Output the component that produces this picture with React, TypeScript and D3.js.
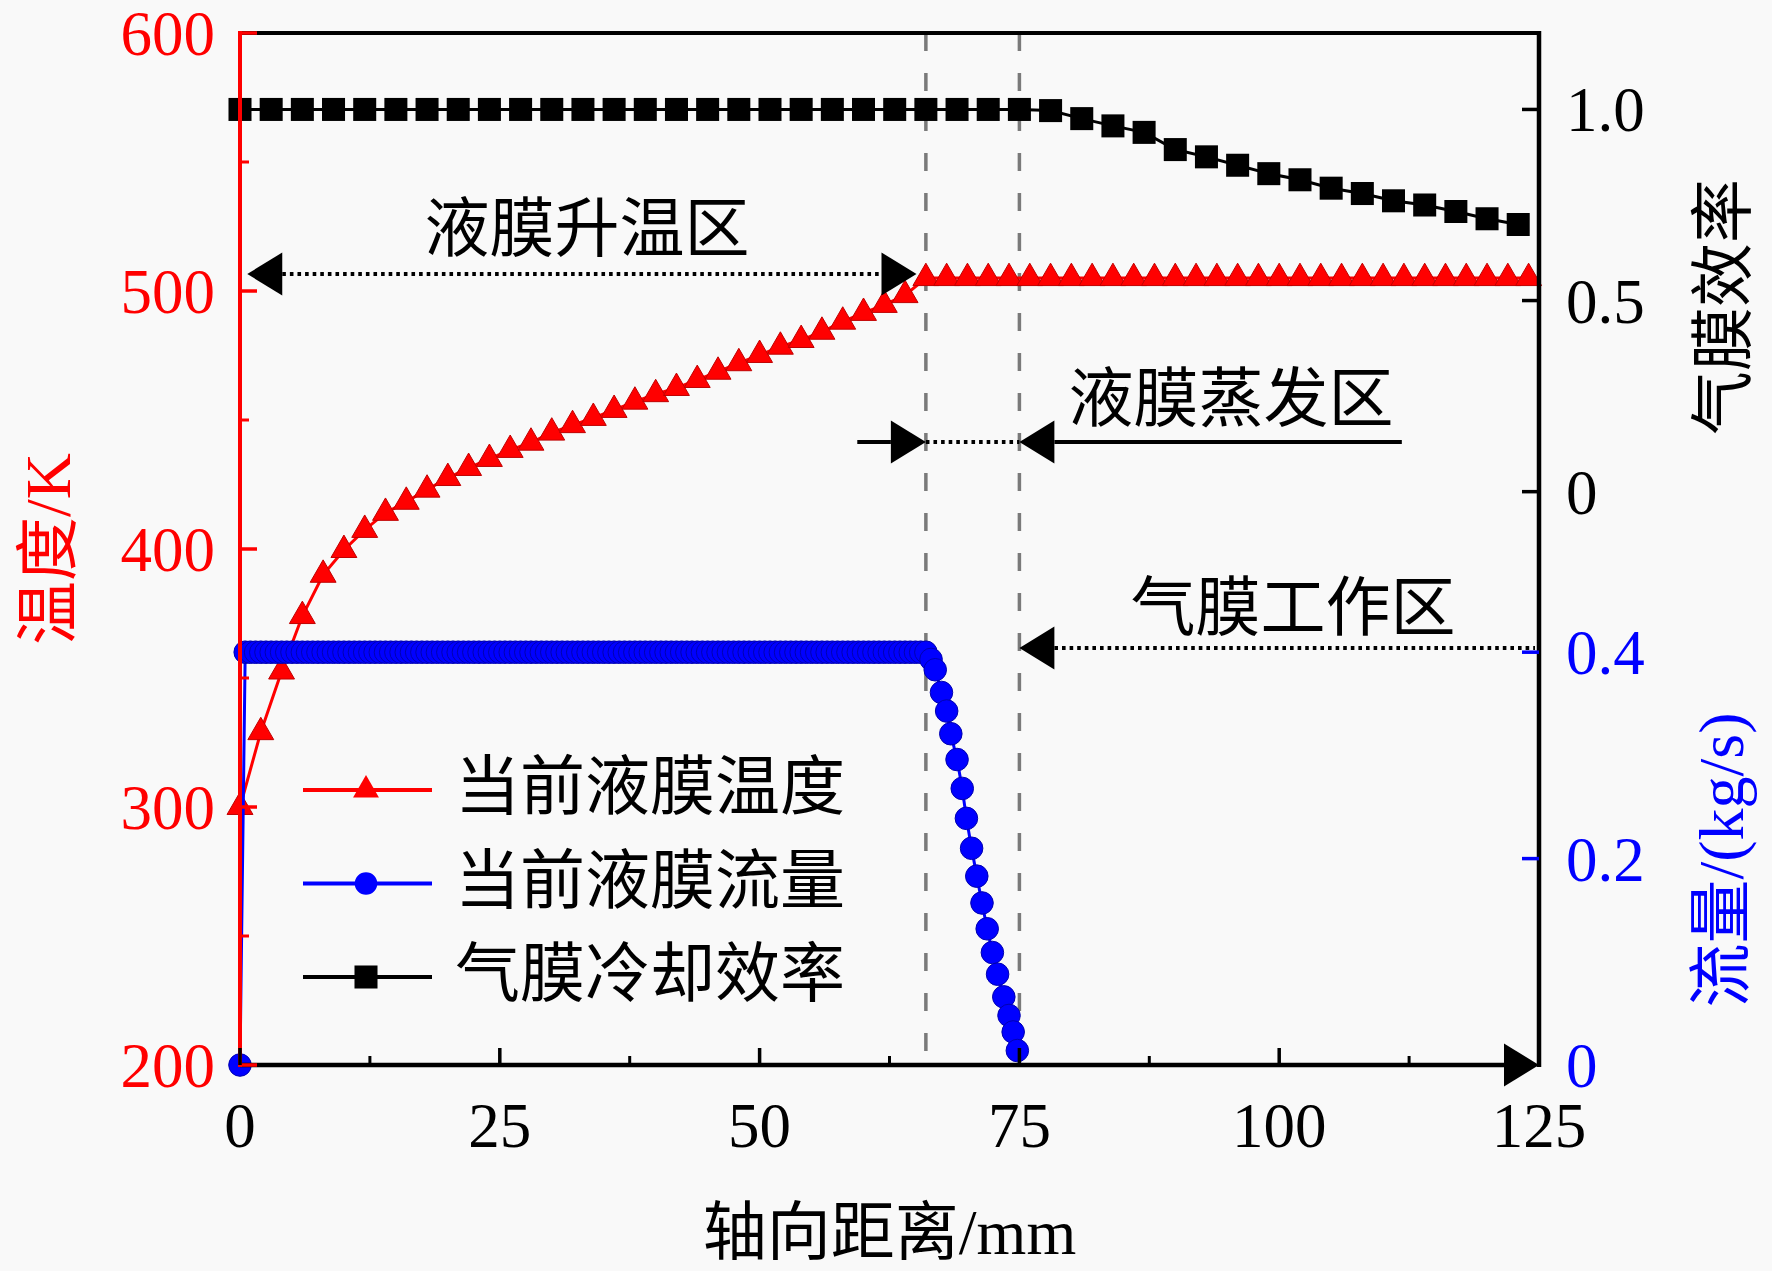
import React, { useEffect } from 'react'
import * as d3 from 'd3'

// 当前液膜温度 (K), sampled every 2 mm
const tempDist = [
  0, 2, 4, 6, 8, 10, 12, 14, 16, 18, 20, 22, 24, 26, 28, 30, 32, 34, 36, 38, 40,
  42, 44, 46, 48, 50, 52, 54, 56, 58, 60, 62, 64, 66, 68, 70, 72, 74, 76, 78, 80,
  82, 84, 86, 88, 90, 92, 94, 96, 98, 100, 102, 104, 106, 108, 110, 112, 114, 116,
  118, 120, 122, 124,
]
const tempK = [
  300, 329, 352.5, 374, 390, 399.6, 407.4, 414, 418.3, 423, 427.5, 431.4, 434.9,
  438.4, 441.2, 445.1, 448, 450.8, 453.9, 457.1, 460, 462.4, 465.5, 468.7, 472,
  475.2, 478.4, 481, 484.2, 488.1, 491.5, 494.6, 498.4, 505, 505, 505, 505, 505,
  505, 505, 505, 505, 505, 505, 505, 505, 505, 505, 505, 505, 505, 505, 505, 505,
  505, 505, 505, 505, 505, 505, 505, 505, 505,
]

// 气膜冷却效率, sampled every 3 mm
const effDist = [
  0, 3, 6, 9, 12, 15, 18, 21, 24, 27, 30, 33, 36, 39, 42, 45, 48, 51, 54, 57, 60,
  63, 66, 69, 72, 75, 78, 81, 84, 87, 90, 93, 96, 99, 102, 105, 108, 111, 114,
  117, 120, 123,
]
const effVal = [
  1, 1, 1, 1, 1, 1, 1, 1, 1, 1, 1, 1, 1, 1, 1, 1, 1, 1, 1, 1, 1, 1, 1, 1, 1, 1,
  0.997, 0.976, 0.957, 0.94, 0.895, 0.876, 0.854, 0.832, 0.816, 0.794, 0.78,
  0.761, 0.75, 0.733, 0.714, 0.699,
]

// 当前液膜流量 (kg/s): start, plateau samples every 0.5 mm, then the decline
const flowStart: [number, number] = [0, 0]
const flowPlateauDist = [
  0.5, 1, 1.5, 2, 2.5, 3, 3.5, 4, 4.5, 5, 5.5, 6, 6.5, 7, 7.5, 8, 8.5, 9, 9.5, 10,
  10.5, 11, 11.5, 12, 12.5, 13, 13.5, 14, 14.5, 15, 15.5, 16, 16.5, 17, 17.5, 18,
  18.5, 19, 19.5, 20, 20.5, 21, 21.5, 22, 22.5, 23, 23.5, 24, 24.5, 25, 25.5, 26,
  26.5, 27, 27.5, 28, 28.5, 29, 29.5, 30, 30.5, 31, 31.5, 32, 32.5, 33, 33.5, 34,
  34.5, 35, 35.5, 36, 36.5, 37, 37.5, 38, 38.5, 39, 39.5, 40, 40.5, 41, 41.5, 42,
  42.5, 43, 43.5, 44, 44.5, 45, 45.5, 46, 46.5, 47, 47.5, 48, 48.5, 49, 49.5, 50,
  50.5, 51, 51.5, 52, 52.5, 53, 53.5, 54, 54.5, 55, 55.5, 56, 56.5, 57, 57.5, 58,
  58.5, 59, 59.5, 60, 60.5, 61, 61.5, 62, 62.5, 63, 63.5, 64, 64.5, 65, 65.5, 66,
]
const flowPlateau = 0.4
const flowDecline: [number, number][] = [
  [66.5, 0.393], [66.9, 0.383], [67.5, 0.361], [68, 0.343], [68.4, 0.321],
  [69, 0.296], [69.5, 0.268], [69.9, 0.239], [70.4, 0.21], [70.9, 0.183],
  [71.4, 0.157], [71.9, 0.132], [72.4, 0.109], [72.9, 0.088], [73.5, 0.066],
  [74, 0.048], [74.4, 0.032], [74.8, 0.014],
]

const tempTicks = [200, 300, 400, 500, 600]
const tempMinor = [250, 350, 450, 550]
const distTicks = [0, 25, 50, 75, 100, 125]
const distMinor = [12.5, 37.5, 62.5, 87.5, 112.5]
const effTicks = [0, 0.5, 1]
const effTickLabels = ['0', '0.5', '1.0']
const flowTicks = [0, 0.2, 0.4]
const flowTickLabels = ['0', '0.2', '0.4']
const zoneBounds = [66, 75]

const legendItems = [
  { label: '当前液膜温度', color: '#ff0000', shape: 'triangle' },
  { label: '当前液膜流量', color: '#0000ff', shape: 'circle' },
  { label: '气膜冷却效率', color: '#000000', shape: 'square' },
]

const W = 1772
const H = 1271
const BG = '#f9f9f9'
const RED = '#ff0000'
const BLUE = '#0000ff'
const FONT = "'Liberation Serif', 'Times New Roman', 'Noto Sans CJK SC', serif"

const symTriangle = d3.symbol().type(d3.symbolTriangle).size(290)()!
const symCircle = d3.symbol().type(d3.symbolCircle).size(400)()!
const symSquare = d3.symbol().type(d3.symbolSquare).size(530)()!
const shapes: Record<string, string> = { triangle: symTriangle, circle: symCircle, square: symSquare }

const App: React.FC = () => {
  useEffect(() => {
    document.body.style.margin = '0'
    document.body.style.background = BG
  }, [])

  const left = 240
  const right = 1539
  const top = 33
  const bottom = 1065

  const x = d3.scaleLinear().domain([0, 125]).range([left, right])
  const yT = d3.scaleLinear().domain([200, 600]).range([bottom, top])
  const yE = d3.scaleLinear().domain([-1.5, 1.2]).range([bottom, top])
  const yF = d3.scaleLinear().domain([0, 1]).range([bottom, top])

  const temp = tempDist.map((d, i) => [d, tempK[i]] as [number, number])
  const eff = effDist.map((d, i) => [d, effVal[i]] as [number, number])
  const flow: [number, number][] = [
    flowStart,
    ...flowPlateauDist.map(d => [d, flowPlateau] as [number, number]),
    ...flowDecline,
  ]

  const tempPath = d3.line<[number, number]>().x(d => x(d[0])).y(d => yT(d[1]))(temp)!
  const effPath = d3.line<[number, number]>().x(d => x(d[0])).y(d => yE(d[1]))(eff)!
  const flowPath = d3.line<[number, number]>().x(d => x(d[0])).y(d => yF(d[1]))(flow)!

  const ah = 35
  const aw = 21.5
  const arrowRight = (tx: number, ty: number) =>
    `M${tx},${ty}L${tx - ah},${ty - aw}L${tx - ah},${ty + aw}Z`
  const arrowLeft = (tx: number, ty: number) =>
    `M${tx},${ty}L${tx + ah},${ty - aw}L${tx + ah},${ty + aw}Z`

  const heatY = 274
  const evapY = 442
  const gasY = 648
  const dotted = { stroke: '#000', strokeWidth: 4, strokeDasharray: '3.6 4' }

  return (
    <svg width={W} height={H} style={{ display: 'block', background: BG, fontFamily: FONT }}>
      <rect width={W} height={H} fill={BG} />

      {/* zone boundaries */}
      {zoneBounds.map(b => (
        <line key={b} x1={x(b)} x2={x(b)} y1={top} y2={bottom} stroke="#7a7a7a" strokeWidth={3.5} strokeDasharray="18 22" />
      ))}

      {/* temperature */}
      <path d={tempPath} fill="none" stroke={RED} strokeWidth={3} />
      {temp.map((d, i) => (
        <path key={i} d={symTriangle} transform={`translate(${x(d[0])},${yT(d[1])})`} fill={RED} stroke="#c00000" strokeWidth={1} />
      ))}

      {/* flow */}
      <path d={flowPath} fill="none" stroke={BLUE} strokeWidth={3} />
      {flow.map((d, i) => (
        <path key={i} d={symCircle} transform={`translate(${x(d[0])},${yF(d[1])})`} fill={BLUE} stroke="#0000b0" strokeWidth={1} />
      ))}

      {/* efficiency */}
      <path d={effPath} fill="none" stroke="#000" strokeWidth={3} />
      {eff.map((d, i) => (
        <path key={i} d={symSquare} transform={`translate(${x(d[0])},${yE(d[1])})`} fill="#000" />
      ))}

      {/* zone annotations */}
      <g fill="#000">
        <path d={arrowLeft(x(0.7), heatY)} />
        <line x1={x(0.7) + ah} x2={x(65.1) - ah} y1={heatY} y2={heatY} {...dotted} />
        <path d={arrowRight(x(65.1), heatY)} />

        <line x1={x(59.4)} x2={x(zoneBounds[0]) - ah} y1={evapY} y2={evapY} stroke="#000" strokeWidth={4} />
        <path d={arrowRight(x(zoneBounds[0]), evapY)} />
        <line x1={x(zoneBounds[0])} x2={x(zoneBounds[1])} y1={evapY} y2={evapY} {...dotted} />
        <path d={arrowLeft(x(zoneBounds[1]), evapY)} />
        <line x1={x(zoneBounds[1]) + ah} x2={x(111.8)} y1={evapY} y2={evapY} stroke="#000" strokeWidth={4} />

        <path d={arrowLeft(x(zoneBounds[1]), gasY)} />
        <line x1={x(zoneBounds[1]) + ah} x2={right - 4} y1={gasY} y2={gasY} {...dotted} />
      </g>
      <g fontSize={65} fill="#000" textAnchor="middle">
        <text x={587} y={251}>液膜升温区</text>
        <text x={1231} y={421}>液膜蒸发区</text>
        <text x={1293} y={630}>气膜工作区</text>
      </g>

      {/* legend */}
      {legendItems.map((it, i) => {
        const ly = 790 + i * 93.5
        return (
          <g key={it.label}>
            <line x1={303} x2={432} y1={ly} y2={ly} stroke={it.color} strokeWidth={4} />
            <path d={shapes[it.shape]} transform={`translate(366,${ly})`} fill={it.color} />
            <text x={455} y={ly + 19} fontSize={65} fill="#000">{it.label}</text>
          </g>
        )
      })}

      {/* frame */}
      <line x1={left - 2} x2={right + 2} y1={top} y2={top} stroke="#000" strokeWidth={4} />
      <line x1={right} x2={right} y1={top - 2} y2={bottom + 2} stroke="#000" strokeWidth={4.5} />
      <line x1={left} x2={right - ah + 2} y1={bottom} y2={bottom} stroke="#000" strokeWidth={4.5} />
      <path d={arrowRight(right, bottom)} fill="#000" />
      <line x1={left} x2={left} y1={top - 2} y2={bottom + 2} stroke={RED} strokeWidth={4} />

      {/* left temperature axis */}
      {tempTicks.map(t => (
        <g key={t}>
          <line x1={left} x2={left + 17} y1={yT(t)} y2={yT(t)} stroke={RED} strokeWidth={3.5} />
          <text x={215} y={yT(t) + 22} fontSize={63} fill={RED} textAnchor="end">{t}</text>
        </g>
      ))}
      {tempMinor.map(t => (
        <line key={t} x1={left} x2={left + 9} y1={yT(t)} y2={yT(t)} stroke={RED} strokeWidth={3} />
      ))}

      {/* bottom distance axis */}
      {distTicks.map(t => (
        <g key={t}>
          <line x1={x(t)} x2={x(t)} y1={bottom} y2={bottom - 17} stroke="#000" strokeWidth={3.5} />
          <text x={x(t)} y={1147} fontSize={63} fill="#000" textAnchor="middle">{t}</text>
        </g>
      ))}
      {distMinor.map(t => (
        <line key={t} x1={x(t)} x2={x(t)} y1={bottom} y2={bottom - 9} stroke="#000" strokeWidth={3} />
      ))}

      {/* right efficiency axis */}
      {effTicks.map((t, i) => (
        <g key={t}>
          <line x1={right} x2={right - 17} y1={yE(t)} y2={yE(t)} stroke="#000" strokeWidth={3.5} />
          <text x={1566} y={yE(t) + 22} fontSize={63} fill="#000">{effTickLabels[i]}</text>
        </g>
      ))}

      {/* right flow axis */}
      {flowTicks.map((t, i) => (
        <g key={t}>
          {t > 0 && <line x1={right} x2={right - 17} y1={yF(t)} y2={yF(t)} stroke={BLUE} strokeWidth={3.5} />}
          <text x={1566} y={yF(t) + 22} fontSize={63} fill={BLUE}>{flowTickLabels[i]}</text>
        </g>
      ))}

      {/* axis titles */}
      <text transform={`translate(70,${(top + bottom) / 2}) rotate(-90)`} fontSize={64} fill={RED} textAnchor="middle">温度/K</text>
      <text transform="translate(1745,307) rotate(-90)" fontSize={64} fill="#000" textAnchor="middle">气膜效率</text>
      <text transform="translate(1743,860) rotate(-90)" fontSize={64} fill={BLUE} textAnchor="middle">流量/(kg/s)</text>
      <text x={(left + right) / 2} y={1254} fontSize={64} fill="#000" textAnchor="middle">轴向距离/mm</text>
    </svg>
  )
}

export default App
